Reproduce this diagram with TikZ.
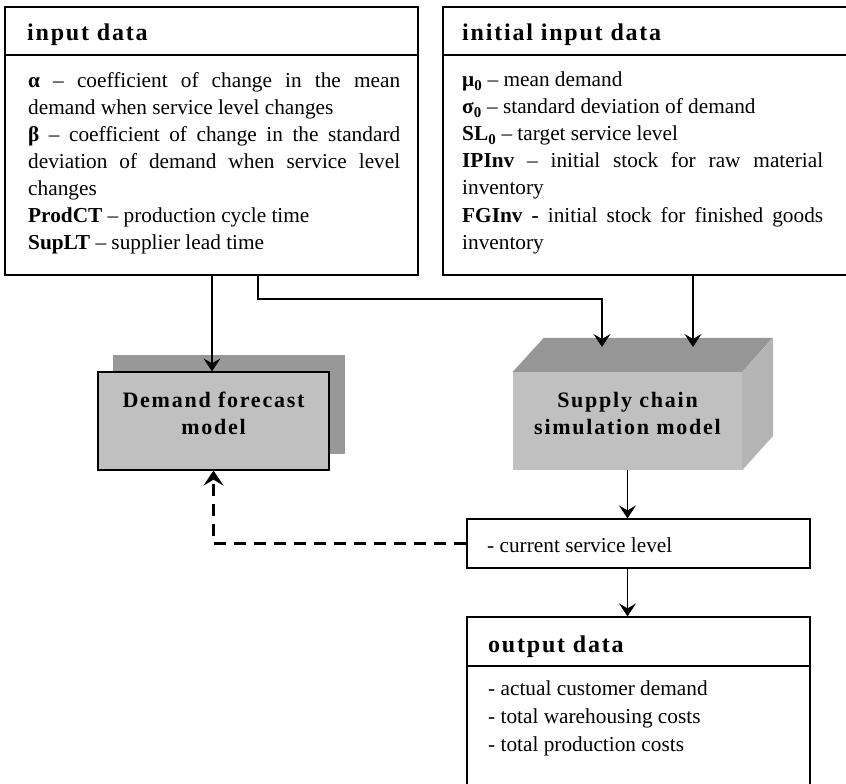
\documentclass[tikz,border=0pt]{standalone}
\usepackage{fontspec}
\setmainfont{Liberation Serif}
\usetikzlibrary{arrows.meta}

\definecolor{frontgray}{RGB}{192,192,192}
\definecolor{shadowgray}{RGB}{152,152,152}
\definecolor{topgray}{RGB}{150,150,150}
\definecolor{sidegray}{RGB}{180,180,180}

% body text and headings
\newcommand{\bodyfont}{\fontsize{21.3}{27}\selectfont}
\newcommand{\headfont}{\fontsize{24}{28}\selectfont\bfseries\addfontfeature{LetterSpace=7.5}}
\newcommand{\modelfont}{\fontsize{22}{27}\selectfont\bfseries\addfontfeature{LetterSpace=8}}
\newcommand{\jline}[1]{\makebox[\linewidth][s]{#1}}

\tikzset{
  databox/.style={draw=black, line width=1.2pt, fill=white, inner sep=0pt},
  bodytext/.style={anchor=base west, inner sep=0pt, font=\bodyfont},
  headtext/.style={anchor=base west, inner sep=0pt, font=\headfont},
  modeltext/.style={align=center, inner sep=0pt, font=\modelfont},
  arr/.style={line width=1.2pt, -{Stealth[length=13pt, width=17pt, inset=5pt]}},
  feedback/.style={line width=2.6pt, dash pattern=on 12pt off 8pt,
    -{Stealth[length=15pt, width=20pt, inset=6pt]}},
}

\begin{document}
\begin{tikzpicture}[x=1pt, y=-1pt]
\useasboundingbox (0,0) rectangle (846,784);
\clip (0,0) rectangle (846,784);
\fill[white] (0,0) rectangle (846,784);

% input data
\node[databox, minimum width=413pt, minimum height=268pt] (inbox) at (211.5,141) {};
\draw[line width=1.2pt] (inbox.west |- 0,55) -- (inbox.east |- 0,55);
\node[headtext] (inhead) at (27,41) {input data};
\node[bodytext] (inbody) at (28,88) {\parbox[t]{372pt}{\bodyfont
  \jline{\textbf{α} – coefficient of change in the mean}\\
  demand when service level changes\\
  \jline{\textbf{β} – coefficient of change in the standard}\\
  \jline{deviation of demand when service level}\\
  changes\\
  \textbf{ProdCT} – production cycle time\\
  \textbf{SupLT} – supplier lead time}};

% initial input data
\node[databox, minimum width=420pt, minimum height=268pt] (initbox) at (653,141) {};
\draw[line width=1.2pt] (initbox.west |- 0,55) -- (initbox.east |- 0,55);
\node[headtext] (inithead) at (462,41) {initial input data};
\node[bodytext] (initbody) at (462,87) {\parbox[t]{361pt}{\bodyfont
  \textbf{μ\textsubscript{0}} – mean demand\\
  \textbf{σ\textsubscript{0}} – standard deviation of demand\\
  \textbf{SL\textsubscript{0}} – target service level\\
  \jline{\textbf{IPInv} – initial stock for raw material}\\
  inventory\\
  \jline{\textbf{FGInv -} initial stock for finished goods}\\
  inventory}};

% demand forecast model (with offset shadow)
\node[fill=shadowgray, minimum width=232pt, minimum height=99pt, inner sep=0pt] (demshadow) at (229,404.5) {};
\node[fill=frontgray, draw=black, line width=1.2pt, minimum width=231pt, minimum height=98pt, inner sep=0pt] (dem) at (213.5,421) {};
\node[modeltext] (demlabel) at (213.5,413) {Demand forecast\\model};

% supply chain simulation model (block)
\node[fill=frontgray, minimum width=229pt, minimum height=98pt, inner sep=0pt] (sim) at (627.5,421) {};
\fill[topgray] (sim.north west) -- ++(31,-34) -- ++(229,0) -- (sim.north east) -- cycle;
\fill[sidegray] (sim.north east) -- ++(31,-34) -- ++(0,98) -- (sim.south east) -- cycle;
\node[modeltext] (simlabel) at (627.5,413) {Supply chain\\simulation model};

% current service level
\node[databox, minimum width=343pt, minimum height=49pt] (svc) at (638.5,543.5) {};
\node[bodytext, anchor=west] (svctext) at (487,545) {- current service level};

% output data
\node[databox, minimum width=343pt, minimum height=200pt] (outbox) at (638.5,717) {};
\draw[line width=1.2pt] (outbox.west |- 0,666) -- (outbox.east |- 0,666);
\node[headtext] (outhead) at (488,652) {output data};
\node[bodytext] (outbody) at (488,695) {\parbox[t]{320pt}{\fontsize{21.3}{28}\selectfont
  - actual customer demand\\
  - total warehousing costs\\
  - total production costs}};

% connectors
\coordinate (simin1) at (602,347);
\coordinate (simin2) at (693,347);
\draw[arr] (inbox.south -| 212,0) -- (212,0 |- dem.north);
\draw[arr] (inbox.south -| 258,0) -- (258,299) -| (simin1);
\draw[arr] (initbox.south -| simin2) -- (simin2);
\draw[arr] (sim.south) -- (sim.south |- svc.north);
\draw[arr] (svc.south -| sim.south) -- (sim.south |- outbox.north);
\draw[feedback] (svc.west) -- (svc.west -| dem.south) -- (dem.south);
\end{tikzpicture}
\end{document}
